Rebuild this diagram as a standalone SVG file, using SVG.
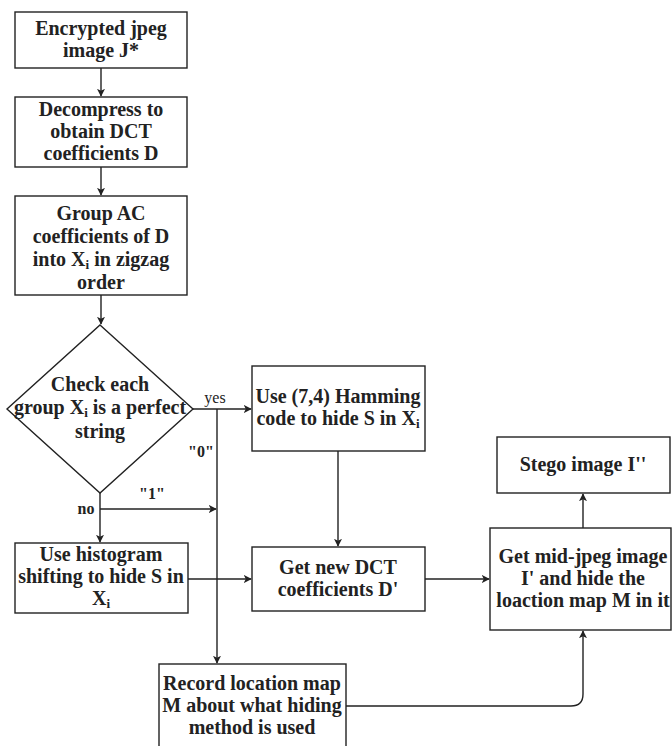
<svg xmlns="http://www.w3.org/2000/svg" width="672" height="746" viewBox="0 0 672 746">
  <style>
    .box { fill: #ffffff; stroke: #222222; stroke-width: 1.4; }
    .t { font-family: 'Liberation Serif', 'DejaVu Serif', serif; font-weight: bold; font-size: 20px; fill: #222222; text-anchor: middle; }
    .lbl { font-family: 'Liberation Serif', 'DejaVu Serif', serif; font-size: 16px; fill: #222222; text-anchor: middle; }
    .lblb { font-weight: bold; }
    .sub { font-size: 13px; baseline-shift: -3px; }
    .edge { fill: none; stroke: #222222; stroke-width: 1.4; }
  </style>
  <defs>
    <marker id="arrow" viewBox="0 0 10 10" refX="9" refY="5" markerWidth="8" markerHeight="8" markerUnits="userSpaceOnUse" orient="auto">
      <path d="M0,0 L10,5 L0,10 L2.5,5 Z" fill="#222222"/>
    </marker>
  </defs>
  <rect width="672" height="746" fill="#ffffff"/>

  <!-- flow connectors and their labels -->
  <g id="connectors">
    <path class="edge" d="M101,68 V96" marker-end="url(#arrow)"/>
    <path class="edge" d="M101,167 V195" marker-end="url(#arrow)"/>
    <path class="edge" d="M101,295 V324" marker-end="url(#arrow)"/>
    <path class="edge" d="M193,409 H251" marker-end="url(#arrow)"/>
    <path class="edge" d="M217,409 V663" marker-end="url(#arrow)"/>
    <path class="edge" d="M100,493 V542" marker-end="url(#arrow)"/>
    <path class="edge" d="M100,509 H216" marker-end="url(#arrow)"/>
    <path class="edge" d="M188,579 H251" marker-end="url(#arrow)"/>
    <path class="edge" d="M338,451 V546" marker-end="url(#arrow)"/>
    <path class="edge" d="M425,579 H489" marker-end="url(#arrow)"/>
    <path class="edge" d="M583,528 V494" marker-end="url(#arrow)"/>
    <path class="edge" d="M346,706 H571 Q583,706 583,694 V631" marker-end="url(#arrow)"/>
    <text class="lbl" x="215" y="403">yes</text>
    <text class="lbl lblb" x="201" y="457">"0"</text>
    <text class="lbl lblb" x="152" y="499">"1"</text>
    <text class="lbl lblb" x="86" y="514">no</text>
  </g>

  <g id="encrypted">
    <rect class="box" x="15" y="12" width="172" height="56"/>
    <text class="t" x="101" y="35">Encrypted jpeg</text>
    <text class="t" x="101" y="57">image J*</text>
  </g>

  <g id="decompress">
    <rect class="box" x="15" y="97" width="172" height="70"/>
    <text class="t" x="101" y="116">Decompress to</text>
    <text class="t" x="101" y="138">obtain DCT</text>
    <text class="t" x="101" y="160">coefficients D</text>
  </g>

  <g id="group-ac">
    <rect class="box" x="15" y="196" width="172" height="99"/>
    <text class="t" x="101" y="220">Group AC</text>
    <text class="t" x="101" y="243">coefficients of D</text>
    <text class="t" x="101" y="266">into X<tspan class="sub">i</tspan> in zigzag</text>
    <text class="t" x="101" y="289">order</text>
  </g>

  <g id="check">
    <path class="box" d="M100,325 L193,409 L100,493 L7,409 Z"/>
    <text class="t" x="100" y="391">Check each</text>
    <text class="t" x="100" y="414">group X<tspan class="sub">i</tspan> is a perfect</text>
    <text class="t" x="100" y="438">string</text>
  </g>

  <g id="hamming">
    <rect class="box" x="252" y="366" width="173" height="85"/>
    <text class="t" x="338" y="403">Use (7,4) Hamming</text>
    <text class="t" x="338" y="425">code to hide S in X<tspan class="sub">i</tspan></text>
  </g>

  <g id="histogram">
    <rect class="box" x="15" y="543" width="173" height="70"/>
    <text class="t" x="101" y="561">Use histogram</text>
    <text class="t" x="101" y="583">shifting to hide S in</text>
    <text class="t" x="101" y="605">X<tspan class="sub">i</tspan></text>
  </g>

  <g id="new-dct">
    <rect class="box" x="252" y="547" width="173" height="64"/>
    <text class="t" x="338" y="574">Get new DCT</text>
    <text class="t" x="338" y="596">coefficients D'</text>
  </g>

  <g id="mid-jpeg">
    <rect class="box" x="490" y="528" width="181" height="102"/>
    <text class="t" x="583" y="563">Get mid-jpeg image</text>
    <text class="t" x="583" y="585">I' and hide the</text>
    <text class="t" x="583" y="607">loaction map M in it</text>
  </g>

  <g id="stego">
    <rect class="box" x="497" y="437" width="173" height="56"/>
    <text class="t" x="583" y="471">Stego image I''</text>
  </g>

  <g id="record">
    <rect class="box" x="159" y="664" width="187" height="90"/>
    <text class="t" x="252" y="690">Record location map</text>
    <text class="t" x="252" y="712">M about what hiding</text>
    <text class="t" x="252" y="734">method is used</text>
  </g>
</svg>
